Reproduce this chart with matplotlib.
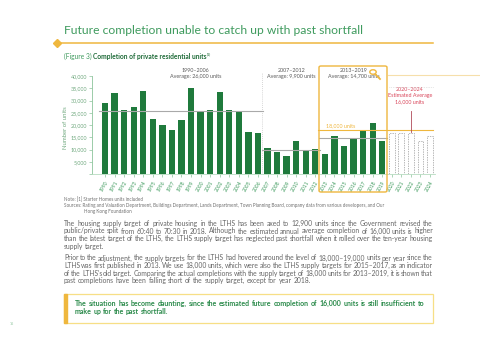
import matplotlib.pyplot as plt
import matplotlib.patches as mpatches
import numpy as np

W, H = 480, 337
plt.rcParams['font.family'] = ['Lato', 'DejaVu Sans']

# data
years = list(range(1990, 2025))
actual = [29000, 33000, 26000, 27400, 33900, 22400, 19800, 18000, 22000, 35000,
          25400, 26000, 33600, 26000, 25700, 17300, 16600, 10500, 8800, 7200,
          13400, 9500, 10100, 8300, 15700, 11300, 14600, 17800, 20900, 13600]
estimated = [16700, 16700, 16700, 13300, 15600]
period_start = [1990, 2007, 2013]
period_end = [2006, 2012, 2019]
period_avg = [25700, 9900, 14700]
period_label = ['1990–2006\nAverage: 26,000 units',
                '2007–2012\nAverage: 9,900 units',
                '2013–2019\nAverage: 14,700 units']
target = 18000

GREEN = '#1f7a3c'
LGREEN = '#3f9b5e'
ORANGE = '#efb73e'
RED = '#d9475b'
GREY = '#5a5a5a'


def P(x, y):
    return (x / W, 1 - y / H)


fig = plt.figure(figsize=(W / 100, H / 100), dpi=100)
fig.patch.set_facecolor('white')

# header
fig.text(*P(64, 31), 'Future completion unable to catch up with past shortfall',
         fontsize=8.7, color=LGREEN, va='center', ha='left')
fig.add_artist(plt.Line2D([57 / W, 433 / W], [1 - 42.7 / H] * 2,
                          color=ORANGE, lw=1.1, transform=fig.transFigure))
fig.add_artist(plt.Line2D([57 / W], [1 - 42.7 / H], marker='D', ms=4,
                          color=ORANGE, transform=fig.transFigure))
t1 = fig.text(*P(64, 58.5), '(Figure 3)', fontsize=4.8, color=LGREEN, va='baseline')
r = fig.canvas.get_renderer()
w1 = t1.get_window_extent(r).width + 1.5
t2 = fig.text(*P(64 + w1, 58.5), 'Completion of private residential units',
              fontsize=4.8, color='#1d6a37', fontweight='bold', va='baseline')
w2 = t2.get_window_extent(r).width
fig.text(*P(64 + w1 + w2 + 0.5, 55.5), '(1)', fontsize=2.8, color='#1d6a37', va='baseline')

# chart
ax = fig.add_axes([92 / W, 1 - 174 / H, (440 - 92) / W, 110 / H])
x = np.arange(len(years))
xa = x[:len(actual)]
xe = x[len(actual):]
ax.bar(xa, actual, width=0.66, color=GREEN, zorder=2)
ax.bar(xe, estimated, width=0.62, facecolor='white', edgecolor='#9a9a9a',
       lw=0.5, linestyle=(0, (2, 1.5)), zorder=2)

for s, e, a, lab in zip(period_start, period_end, period_avg, period_label):
    i0, i1 = years.index(s), years.index(e)
    ax.plot([i0 - 0.6, i1 + 0.5], [a, a], color='#a9a9a9', lw=0.8, zorder=3)
    ax.text((i0 + i1) / 2 + (1.5 if s == 1990 else 0), 41000, lab, fontsize=3.9,
            color=GREY, ha='center', va='center', linespacing=1.3)

i13 = years.index(2013)
ax.plot([i13 - 0.7, 34.3], [target, target], color=ORANGE, lw=0.8, zorder=3)
ax.text(i13 + 0.1, target + 700, '18,000 units', color=ORANGE, fontsize=3.9,
        va='bottom', ha='left')

ax.plot([16.4, 16.4], [0, 41500], color='#c8c8c8', lw=0.6, ls=(0, (1, 1.5)), zorder=1)

i22 = years.index(2022)
ax.text(i22 - 0.1, 32000, '2020–2024\nEstimated Average\n16,000 units', color=RED,
        fontsize=3.9, ha='center', va='center', linespacing=1.3)
ax.plot([i22, i22], [17200, 25800], color='#b04a58', lw=0.6, zorder=3)

ax.set_xlim(-1.36, 35.04)
ax.set_ylim(0, 44898)
for sp in ['top', 'right']:
    ax.spines[sp].set_visible(False)
ax.spines['left'].set_color('#8cc49b')
ax.spines['left'].set_linewidth(0.6)
ax.spines['left'].set_bounds(0, 40000)
ax.spines['bottom'].set_color('#b7dcc0')
ax.spines['bottom'].set_linewidth(0.6)
ax.spines['bottom'].set_bounds(-1.36, 34.5)
ax.set_yticks(np.arange(0, 40001, 5000))
ax.set_yticklabels([''] + ['{:,}'.format(v) for v in range(5000, 40001, 5000)])
ax.tick_params(axis='y', length=2, width=0.5, color='#8cc49b', pad=1.5,
               labelsize=3.9, labelcolor='#6fa87e')
ax.set_xticks(x)
ax.set_xticklabels([str(y) for y in years], rotation=60, ha='right',
                   rotation_mode='anchor')
ax.tick_params(axis='x', length=2, width=0.5, color='#8cc49b', pad=2,
               labelsize=3.6, labelcolor=LGREEN)
ax.set_ylabel('Number of units', fontsize=4.3, color='#6fa87e')
ax.yaxis.set_label_coords(-0.069, 0.42)

# highlight box, magnifier and guide lines
fig.add_artist(mpatches.FancyBboxPatch(P(319, 192), (387 - 319) / W, (192 - 66) / H,
                                       boxstyle='round,pad=0,rounding_size=0.004',
                                       fill=False, edgecolor=ORANGE, lw=1.0,
                                       transform=fig.transFigure, zorder=5))
fig.add_artist(mpatches.Circle(P(373, 72), 3.2 / W, fill=False, edgecolor=ORANGE,
                               lw=1.0, transform=fig.transFigure, zorder=6))
fig.add_artist(plt.Line2D([375.5 / W, 380 / W], [1 - 74.5 / H, 1 - 79 / H],
                          color=ORANGE, lw=1.3, transform=fig.transFigure))
fig.add_artist(plt.Line2D([388 / W, 480 / W], [1 - 75 / H] * 2, color='#f6dfab',
                          lw=0.8, transform=fig.transFigure))
fig.add_artist(plt.Line2D([389 / W, 434 / W], [1 - 87 / H] * 2, color='#cfcfcf',
                          lw=0.5, ls=(0, (1, 1.5)), transform=fig.transFigure))

# notes
fig.text(*P(64, 200), 'Note: [1] Starter Homes units included', fontsize=3.3,
         color='#707070', va='center')
fig.text(*P(64, 205.8), 'Sources: Rating and Valuation Department, Buildings Department, '
         'Lands Department, Town Planning Board, company data from various developers, and Our',
         fontsize=3.3, color='#707070', va='center')
fig.text(*P(84, 211.3), 'Hong Kong Foundation', fontsize=3.3, color='#707070', va='center')


def justify(line, x0, x1, y, last=False, **kw):
    # y is the centre of the x-height; words are placed on a shared baseline
    words = line.split(' ')
    texts = [fig.text(0, 0, w, va='baseline', ha='left', **kw) for w in words]
    widths = [t.get_window_extent(r).width for t in texts]
    space = fig.text(0, 0, 'a a', **kw).get_window_extent(r).width - \
        2 * fig.text(0, 0, 'a', **kw).get_window_extent(r).width
    fig.texts[-2].remove()
    fig.texts[-1].remove()
    if last or len(words) < 2:
        gap = space
    else:
        gap = max((x1 - x0 - sum(widths)) / (len(words) - 1), 0.4 * space)
    xx = x0
    for t, w in zip(texts, widths):
        t.set_position(P(xx, y + 1.8))
        xx += w + gap


para1 = ['The housing supply target of private housing in the LTHS has been axed to 12,900 units since the Government revised the',
         'public/private split from 60:40 to 70:30 in 2018. Although the estimated annual average completion of 16,000 units is higher',
         'than the latest target of the LTHS, the LTHS supply target has neglected past shortfall when it rolled over the ten-year housing',
         'supply target.']
para2 = ['Prior to the adjustment, the supply targets for the LTHS had hovered around the level of 18,000–19,000 units per year since the',
         'LTHS was first published in 2013. We use 18,000 units, which were also the LTHS supply targets for 2015–2017, as an indicator',
         "of the LTHS's old target. Comparing the actual completions with the supply target of 18,000 units for 2013–2019, it is shown that",
         'past completions have been falling short of the supply target, except for year 2018.']
for k, line in enumerate(para1):
    justify(line, 64, 433, 224 + 7.7 * k, last=(k == len(para1) - 1),
            fontsize=4.85, color='#666666')
for k, line in enumerate(para2):
    justify(line, 64, 433, 258.7 + 7.6 * k, last=(k == len(para2) - 1),
            fontsize=4.85, color='#666666')

# conclusion box
fig.add_artist(mpatches.Rectangle(P(64, 322.5), (433 - 64) / W, 29 / H, fill=False,
                                  edgecolor='#f7df86', lw=0.9, transform=fig.transFigure))
fig.add_artist(mpatches.Rectangle(P(64, 322.5), 2.5 / W, 29 / H, color=ORANGE,
                                  transform=fig.transFigure))
justify('The situation has become daunting, since the estimated future completion of 16,000 units is still insufficient to',
        75, 425, 304.3, fontsize=5.0, color='#2a8a4a', fontweight='bold')
justify('make up for the past shortfall.', 75, 425, 312, last=True,
        fontsize=5.0, color='#2a8a4a', fontweight='bold')

fig.text(*P(12, 324), '16', fontsize=2.6, color='#8cc49b', va='center', ha='center')

fig.savefig('out.png', dpi=100)
